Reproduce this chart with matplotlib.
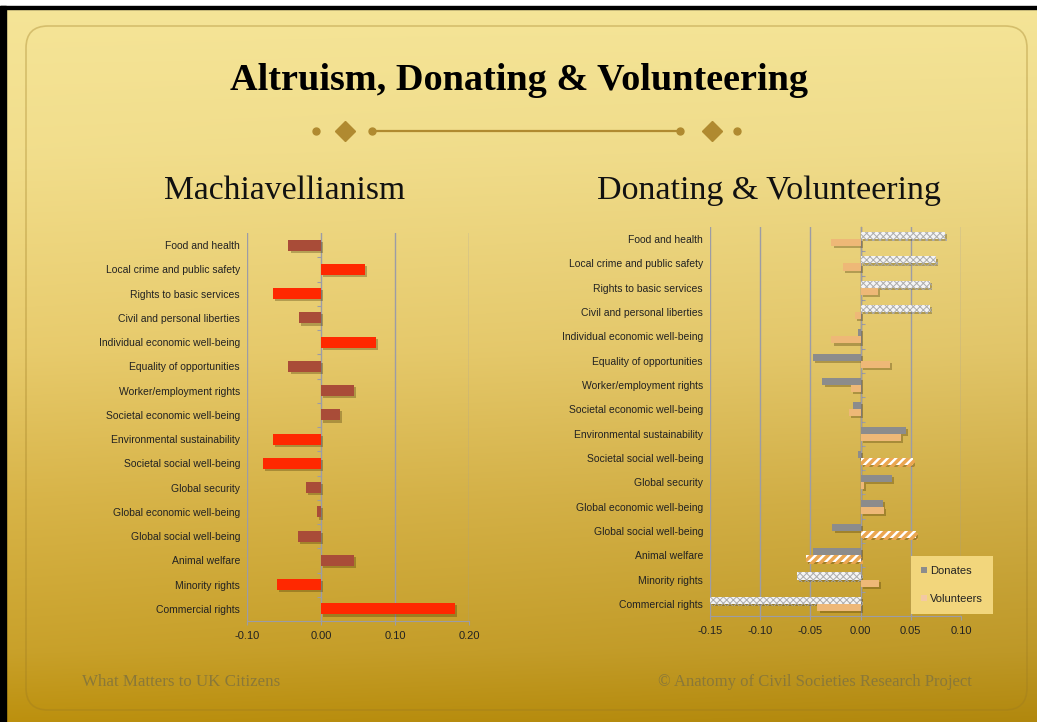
import numpy as np
import matplotlib
matplotlib.use('Agg')
from matplotlib import pyplot as plt
import matplotlib.patheffects as pe
from matplotlib.patches import FancyBboxPatch, Patch, Rectangle

categories = ['Food and health', 'Local crime and public safety', 'Rights to basic services',
              'Civil and personal liberties', 'Individual economic well-being',
              'Equality of opportunities', 'Worker/employment rights',
              'Societal economic well-being', 'Environmental sustainability',
              'Societal social well-being', 'Global security', 'Global economic well-being',
              'Global social well-being', 'Animal welfare', 'Minority rights', 'Commercial rights']

machiavellianism = [-0.044, 0.060, -0.065, -0.030, 0.074, -0.044, 0.045, 0.026,
                    -0.065, -0.079, -0.020, -0.005, -0.031, 0.044, -0.060, 0.181]
mach_highlight = [False, True, True, False, True, False, False, False,
                  True, True, False, False, False, False, True, True]

donates = [0.084, 0.075, 0.069, 0.069, -0.003, -0.047, -0.038, -0.008,
           0.045, -0.003, 0.031, 0.022, -0.028, -0.047, -0.063, -0.150]
donates_highlight = [True, True, True, True, False, False, False, False,
                     False, False, False, False, False, False, True, True]
volunteers = [-0.029, -0.018, 0.017, -0.006, -0.029, 0.029, -0.010, -0.012,
              0.040, 0.052, 0.003, 0.023, 0.055, -0.054, 0.018, -0.043]
volunteers_highlight = [False, False, False, False, False, False, False, False,
                        False, True, False, False, True, True, False, False]

left_ticks = [-0.10, 0.00, 0.10, 0.20]
right_ticks = [-0.15, -0.10, -0.05, 0.00, 0.05, 0.10]

plt.rcParams['font.family'] = ['Liberation Sans', 'DejaVu Sans']

W, H = 1037, 722
fig = plt.figure(figsize=(W / 100, H / 100), dpi=100)

# background slide
bg = fig.add_axes([0, 0, 1, 1], zorder=-10)
bg.set_xlim(0, W)
bg.set_ylim(H, 0)
bg.axis('off')
stops_y = [0, 150, 350, 500, 650, 722]
stops_c = np.array([[245, 229, 152], [242, 222, 140], [232, 203, 108],
                    [216, 180, 72], [201, 161, 42], [188, 144, 14]]) / 255
yy = np.arange(H)
col = np.stack([np.interp(yy, stops_y, stops_c[:, k]) for k in range(3)], axis=1)
xx = np.linspace(0, 1, W)
shade = 1 - 0.06 * np.outer(yy / H, xx)
img = col[:, None, :] * shade[:, :, None]
bg.imshow(np.clip(img, 0, 1), extent=(0, W, H, 0), aspect='auto')
bg.add_patch(FancyBboxPatch((26, 26), 1001, 684, boxstyle='round,pad=0,rounding_size=22',
                            facecolor='none', edgecolor='#9c7a20', alpha=0.35, lw=1.2))
bg.add_patch(Rectangle((0, 0), W, 6, color='white'))
bg.add_patch(Rectangle((0, 6), W, 3, color='black'))
bg.add_patch(Rectangle((0, 6), 6, H, color='black'))

# title ornament
orn = '#b08a30'
bg.plot([372, 680], [131, 131], color=orn, lw=1.6)
bg.plot([316, 372, 680, 737], [131] * 4, 'o', color=orn, ms=5)
bg.plot([345, 712], [131, 131], 'D', color=orn, ms=10)

fig.text(0.5, 1 - 80 / H, 'Altruism, Donating & Volunteering', ha='center', va='center',
         family='Liberation Serif', weight='bold', fontsize=27.5, color='black')
fig.text(285 / W, 1 - 191 / H, 'Machiavellianism', ha='center', va='center',
         family='Liberation Serif', fontsize=24.2, color='#111111')
fig.text(769 / W, 1 - 191 / H, 'Donating & Volunteering', ha='center', va='center',
         family='Liberation Serif', fontsize=24.5, color='#111111')
fig.text(82 / W, 1 - 682 / H, 'What Matters to UK Citizens', ha='left', va='center',
         family='Liberation Serif', fontsize=12.2, color='#8a7838')
fig.text(972 / W, 1 - 682 / H, '\u00a9 Anatomy of Civil Societies Research Project', ha='right',
         va='center', family='Liberation Serif', fontsize=12, color='#8a7838')

shadow = [pe.SimplePatchShadow(offset=(1.5, -1.5), shadow_rgbFace='#3a2a00', alpha=0.3),
          pe.Normal()]
grid_c = '#9c9ca6'
pos = np.arange(len(categories))


def style_axes(ax, xlim, ticks, zero_frac):
    ax.set_facecolor('none')
    ax.set_xlim(*xlim)
    ax.set_ylim(len(categories) - 0.5, -0.5)
    ax.set_xticks(ticks)
    ax.set_xticklabels([f'{t:.2f}' for t in ticks], fontsize=8, color='#222222')
    ax.set_yticks(pos)
    ax.set_yticklabels(categories, fontsize=7.5, color='#222222')
    ax.tick_params(axis='y', length=0, pad=5)
    ax.tick_params(axis='x', length=3, color=grid_c, pad=4)
    for s in ['top', 'right', 'left']:
        ax.spines[s].set_visible(False)
    ax.spines['bottom'].set_color(grid_c)
    ax.xaxis.grid(True, color=grid_c, lw=1)
    ax.set_axisbelow(True)
    sec = ax.secondary_yaxis(zero_frac)
    sec.set_yticks(pos[:-1] + 0.5)
    sec.set_yticklabels([])
    sec.tick_params(length=3, color=grid_c)
    sec.spines['left'].set_visible(False)


# Machiavellianism
ax1 = fig.add_axes([247 / W, 1 - 621 / H, 222 / W, 388 / H])
colors = ['#ff2800' if h else '#a94c38' for h in mach_highlight]
bars = ax1.barh(pos, machiavellianism, height=0.46, color=colors, zorder=3)
for b in bars:
    b.set_path_effects(shadow)
style_axes(ax1, (-0.10, 0.20), left_ticks, 1 / 3)

# Donating & Volunteering
ax2 = fig.add_axes([710 / W, 1 - 616 / H, 251 / W, 389 / H])
bh = 0.29
don = np.array(donates)
vol = np.array(volunteers)
dh = np.array(donates_highlight)
vh = np.array(volunteers_highlight)

groups = []
groups.append(ax2.barh(pos[~dh] - bh / 2, don[~dh], height=bh, color='#8c8c8c', zorder=3))
with plt.rc_context({'hatch.linewidth': 0.7}):
    groups.append(ax2.barh(pos[dh] - bh / 2, don[dh], height=bh, facecolor='#f4f4f4',
                           edgecolor='#ababab', hatch='xxxxx', lw=0, zorder=3))
groups.append(ax2.barh(pos[~vh] + bh / 2, vol[~vh], height=bh, color='#eeb877', zorder=3))
with plt.rc_context({'hatch.linewidth': 2.5}):
    groups.append(ax2.barh(pos[vh] + bh / 2, vol[vh], height=bh, facecolor='white',
                           edgecolor='#eba650', hatch='////', lw=0, zorder=3))
for g in groups:
    for b in g:
        b.set_path_effects(shadow)
style_axes(ax2, (-0.15, 0.10), right_ticks, 0.6)

handles = [Patch(facecolor='#8c8c8c'), Patch(facecolor='#f3c9a4')]
leg = fig.legend(handles, ['Donates', 'Volunteers'], loc='upper left',
                 bbox_to_anchor=(911 / W, 1 - 556 / H), frameon=True, fancybox=False,
                 facecolor='#f2d67c', edgecolor='none', framealpha=1, fontsize=8,
                 handlelength=0.55, handleheight=0.55, handletextpad=0.25,
                 labelspacing=1.6, borderpad=0.9, borderaxespad=0)
for t in leg.get_texts():
    t.set_color('#222222')

plt.savefig('out.png', dpi=100)
